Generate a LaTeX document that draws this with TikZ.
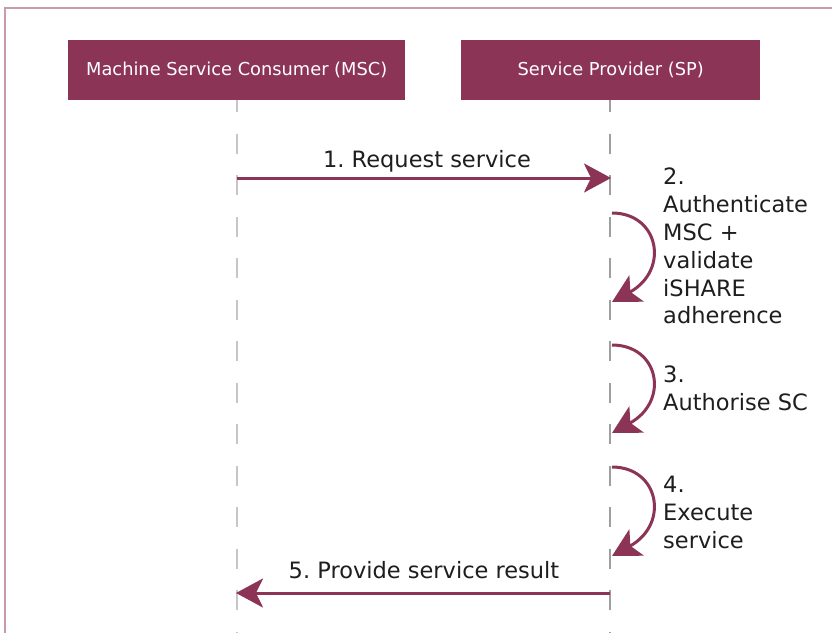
\documentclass[tikz,border=0pt]{standalone}
\usepackage{fontspec}
\setmainfont{DejaVu Sans}
\frenchspacing
\usetikzlibrary{arrows.meta}
\definecolor{maroon}{HTML}{8C3456}
\definecolor{framec}{HTML}{C99AAB}
\definecolor{txt}{HTML}{1E1E1E}
\begin{document}
\begin{tikzpicture}[x=1pt,y=-1pt,
  actor/.style={fill=maroon,text=white,font=\fontsize{17.8}{20}\selectfont,inner sep=0pt,anchor=north west},
  lifeline/.style={line width=1.6pt,dash pattern=on 20pt off 21.5pt,dash phase=8pt},
  msg/.style={draw=maroon,line width=3pt,-{Stealth[length=27pt,width=29pt,inset=7pt]}},
  selfmsg/.style={draw=maroon,line width=3pt,-{Stealth[length=28pt,width=30pt,inset=7pt]}},
  lbl/.style={text=txt,font=\fontsize{22.5}{28}\selectfont,inner sep=0pt},
  steplbl/.style={text=txt,font=\fontsize{22.5}{27.8}\selectfont,inner sep=0pt,anchor=north west,align=left}]
\useasboundingbox (0,0) rectangle (832,632);
\fill[white] (0,0) rectangle (832,632);
\draw[framec,line width=2pt] (5,640) -- (5,8) -- (840,8);
\node[actor,minimum width=337pt,minimum height=60pt] (msc) at (68,40) {Machine Service Consumer (MSC)};
\node[actor,minimum width=299pt,minimum height=60pt] (sp) at (461,40) {Service Provider (SP)};
\coordinate (mscb) at (237,100);
\coordinate (spb) at (610,100);
\coordinate (mscend) at (237,640);
\coordinate (spend) at (610,640);
\draw[lifeline,draw=gray!45] (mscb) -- (mscend);
\draw[lifeline,draw=gray!75] (spb) -- (spend);
% message 1
\coordinate (m1a) at (237,178);
\coordinate (m1b) at (611,178);
\draw[msg] (m1a) -- (m1b);
\node[lbl,anchor=base] (l1) at (427,167) {1. Request service};
% self messages
\coordinate (s2a) at (612,213);
\coordinate (s2b) at (612,302);
\draw[selfmsg] (s2a) .. controls (659,213) and (670,270) .. (s2b);
\node[steplbl] (l2) at (663,168) {2.\\Authenticate\\MSC +\\validate\\iSHARE\\adherence};
\coordinate (s3a) at (612,345);
\coordinate (s3b) at (612,433);
\draw[selfmsg] (s3a) .. controls (659,345) and (670,401) .. (s3b);
\node[steplbl] (l3) at (663,366) {3.\\Authorise SC};
\coordinate (s4a) at (612,467);
\coordinate (s4b) at (612,556);
\draw[selfmsg] (s4a) .. controls (659,467) and (670,524) .. (s4b);
\node[steplbl] (l4) at (663,476) {4.\\Execute\\service};
% message 5
\coordinate (m5a) at (610,593);
\coordinate (m5b) at (236,593);
\draw[msg] (m5a) -- (m5b);
\node[lbl,anchor=base] (l5) at (424,578) {5. Provide service result};
\end{tikzpicture}
\end{document}
